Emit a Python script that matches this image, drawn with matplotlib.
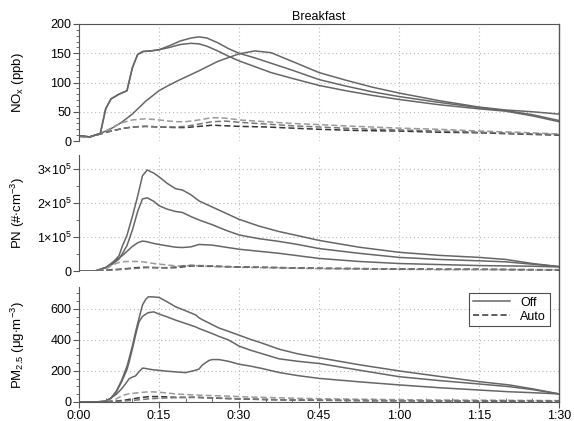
import matplotlib
matplotlib.use("Agg")
import matplotlib.pyplot as plt
from matplotlib.ticker import MultipleLocator, FixedLocator, FuncFormatter
from matplotlib.lines import Line2D

plt.rcParams['font.family'] = ['Liberation Sans', 'DejaVu Sans']
plt.rcParams['mathtext.fontset'] = 'custom'
plt.rcParams['mathtext.rm'] = 'Liberation Sans'
plt.rcParams['mathtext.it'] = 'Liberation Sans'

# ---------------- data (time in minutes) ----------------
title = "Breakfast"
legend_labels = ["Off", "Auto"]
x_tick_minutes = [0, 15, 30, 45, 60, 75, 90]
x_tick_labels = ["0:00", "0:15", "0:30", "0:45", "1:00", "1:15", "1:30"]

# NOx (ppb)
t_nox_ab = [0, 2, 4, 5, 6, 7.5, 9, 10, 11, 12, 13.5, 15, 17, 19, 21, 22.5, 24, 26, 28, 30,
            33, 36, 40, 45, 50, 55, 60, 67.5, 75, 80, 85, 90]
nox_off_a = [9, 7, 13, 55, 72, 80, 86, 125, 148, 153, 154, 156, 163, 171, 176, 178, 176, 168, 158, 150,
             142, 133, 121, 105, 94, 84, 76, 66, 57, 52, 45, 35]
nox_off_b = [9, 7, 13, 55, 72, 80, 86, 125, 148, 153, 154, 156, 160, 165, 167, 166, 162, 154, 145, 137,
             127, 117, 107, 95, 86, 78, 71, 62, 55, 51, 43, 33]
t_nox_c = [0, 2, 4, 6, 8, 10, 12.5, 15, 17, 18.75, 22.5, 26, 30, 33, 36, 40, 45, 50, 55, 60, 67.5, 75, 80, 85, 90]
nox_off_c = [9, 7, 13, 21, 32, 46, 68, 86, 96, 104, 120, 136, 149, 154, 151, 136, 117, 104, 92, 82, 69, 58, 53, 50, 46]
t_nox_auto = [0, 2, 4, 6, 8, 10, 12.5, 15, 18, 20, 22.5, 25, 27.5, 30, 35, 40, 45, 52, 60, 67.5, 75, 82, 90]
nox_auto_a = [8, 7, 12, 22, 31, 36, 38, 36, 33, 33, 36, 40, 39, 36, 33, 30, 28, 25, 22, 20, 17, 15, 12]
nox_auto_b = [8, 7, 12, 17, 21, 24, 25, 24, 23, 23, 25, 27, 26, 25, 24, 22, 20, 18, 17, 15, 14, 12, 10]
nox_auto_c = [8, 7, 12, 17, 21, 24, 25, 24, 24, 25, 29, 33, 34, 32, 29, 26, 24, 21, 19, 17, 15, 13, 11]

# PN (x10^5 #/cm3)
t_pn = [0, 3, 5, 6.25, 7.5, 8.1, 9, 10, 11, 11.9, 12.8, 14, 15, 16.5, 18.1, 19.4, 21, 22.5, 25, 27.5,
        30, 33.75, 37.5, 41, 45, 52.5, 60, 67.5, 75, 80, 85, 90]
pn_off_a = [0, 0.0, 0.1, 0.23, 0.45, 0.72, 1.05, 1.6, 2.2, 2.8, 2.97, 2.88, 2.77, 2.58, 2.42, 2.38, 2.24, 2.06,
            1.88, 1.70, 1.52, 1.32, 1.16, 1.04, 0.9, 0.70, 0.55, 0.46, 0.40, 0.34, 0.22, 0.13]
pn_off_b = [0, 0.0, 0.1, 0.2, 0.35, 0.5, 0.75, 1.2, 1.75, 2.12, 2.15, 2.05, 1.92, 1.82, 1.75, 1.72, 1.6, 1.5,
            1.36, 1.2, 1.06, 0.95, 0.87, 0.78, 0.66, 0.52, 0.40, 0.34, 0.30, 0.27, 0.2, 0.13]
pn_off_c = [0, 0.0, 0.1, 0.25, 0.38, 0.45, 0.58, 0.72, 0.83, 0.88, 0.86, 0.81, 0.78, 0.74, 0.70, 0.69, 0.71, 0.78,
            0.76, 0.70, 0.64, 0.58, 0.52, 0.45, 0.37, 0.28, 0.22, 0.19, 0.16, 0.15, 0.14, 0.12]
pn_auto_a = [0, 0, 0.05, 0.18, 0.25, 0.27, 0.28, 0.28, 0.28, 0.27, 0.25, 0.22, 0.2, 0.18, 0.15, 0.14, 0.16, 0.15,
             0.13, 0.12, 0.11, 0.1, 0.09, 0.08, 0.07, 0.06, 0.05, 0.04, 0.04, 0.04, 0.03, 0.03]
pn_auto_b = [0, 0, 0.02, 0.04, 0.05, 0.06, 0.07, 0.09, 0.1, 0.11, 0.11, 0.1, 0.1, 0.09, 0.1, 0.12, 0.15, 0.15,
             0.14, 0.13, 0.12, 0.11, 0.1, 0.09, 0.08, 0.07, 0.06, 0.05, 0.05, 0.04, 0.04, 0.03]
pn_auto_c = [0, 0, 0.02, 0.03, 0.04, 0.05, 0.06, 0.07, 0.08, 0.09, 0.1, 0.1, 0.09, 0.1, 0.12, 0.15, 0.17, 0.16,
             0.15, 0.13, 0.12, 0.11, 0.10, 0.09, 0.08, 0.07, 0.06, 0.05, 0.05, 0.05, 0.04, 0.04]

# PM2.5 (ug/m3)
t_pm = [0, 3, 5, 6, 7, 8, 9, 9.4, 10, 10.6, 11.25, 11.9, 12.5, 13, 14, 15, 16.5, 18.1, 20, 21.9, 22.5, 23.1,
        24.4, 25, 26.25, 28, 30, 32, 34.4, 37.5, 41, 45, 52.5, 60, 67.5, 75, 80.6, 85, 90]
pm_off_a = [0, 0, 5, 25, 70, 140, 230, 280, 360, 450, 538, 624, 660, 677, 676, 673, 645, 613, 587, 560, 542, 530,
            508, 497, 476, 455, 430, 405, 378, 340, 310, 285, 240, 200, 165, 131, 110, 85, 52]
pm_off_b = [0, 0, 5, 25, 65, 130, 210, 258, 340, 430, 516, 550, 565, 575, 580, 566, 548, 527, 505, 483, 473, 465,
            448, 440, 422, 400, 360, 335, 310, 278, 262, 248, 205, 163, 138, 116, 99, 80, 52]
pm_off_c = [0, 0, 5, 25, 50, 85, 130, 150, 160, 168, 195, 218, 216, 212, 207, 204, 198, 194, 189, 205, 212, 237,
            268, 273, 273, 262, 243, 232, 215, 190, 170, 152, 130, 110, 92, 77, 66, 60, 52]
pm_auto_a = [0, 0, 2, 8, 20, 40, 50, 52, 55, 58, 60, 62, 64, 65, 65, 63, 58, 52, 48, 45, 44, 43,
             42, 41, 40, 38, 35, 32, 30, 27, 24, 21, 18, 15, 13, 12, 11, 10, 9]
pm_auto_b = [0, 0, 1, 3, 6, 10, 14, 17, 20, 23, 27, 30, 32, 34, 35, 35, 33, 30, 30, 30, 29, 28,
             27, 26, 24, 22, 20, 18, 16, 14, 12, 11, 9, 8, 7, 6, 5, 5, 4]
pm_auto_c = [0, 0, 1, 2, 4, 6, 8, 9, 10, 12, 14, 16, 18, 20, 22, 24, 26, 28, 29, 30, 30, 29,
             28, 27, 25, 23, 21, 19, 17, 15, 13, 12, 10, 9, 8, 7, 6, 6, 5]

# ---------------- figure ----------------
W, H = 574, 421
fig = plt.figure(figsize=(W / 100, H / 100), dpi=100)

def frac_box(left, top, right, bottom):
    return [left / W, 1 - bottom / H, (right - left) / W, (bottom - top) / H]

ax1 = fig.add_axes(frac_box(79, 24, 559, 141))
ax2 = fig.add_axes(frac_box(79, 155, 559, 271))
ax3 = fig.add_axes(frac_box(79, 287, 559, 402))

solid_col = '#666666'
dash_cols = ['#9a9a9a', '#333333', '#777777']
lw = 1.1
dash = (0, (4, 2))

# NOx
for y in (nox_off_a, nox_off_b):
    ax1.plot(t_nox_ab, y, color=solid_col, lw=lw)
ax1.plot(t_nox_c, nox_off_c, color=solid_col, lw=lw)
for y, c in zip((nox_auto_a, nox_auto_b, nox_auto_c), dash_cols):
    ax1.plot(t_nox_auto, y, color=c, lw=lw, linestyle=dash)

# PN
for y in (pn_off_a, pn_off_b, pn_off_c):
    ax2.plot(t_pn, y, color=solid_col, lw=lw)
for y, c in zip((pn_auto_a, pn_auto_b, pn_auto_c), dash_cols):
    ax2.plot(t_pn, y, color=c, lw=lw, linestyle=dash)

# PM2.5
for y in (pm_off_a, pm_off_b, pm_off_c):
    ax3.plot(t_pm, y, color=solid_col, lw=lw)
for y, c in zip((pm_auto_a, pm_auto_b, pm_auto_c), dash_cols):
    ax3.plot(t_pm, y, color=c, lw=lw, linestyle=dash)

spine_col = '#555555'
fs = 9
for ax in (ax1, ax2, ax3):
    ax.set_xlim(0, 90)
    ax.xaxis.set_major_locator(FixedLocator(x_tick_minutes))
    ax.xaxis.set_minor_locator(MultipleLocator(5))
    ax.grid(True, which='major', color='#b8b8b8', linestyle=(0, (1, 2.5)), linewidth=0.8)
    ax.spines['right'].set_visible(False)
    ax.spines['top'].set_visible(False)
    ax.spines['left'].set_color(spine_col)
    ax.spines['bottom'].set_color(spine_col)
    ax.tick_params(axis='y', which='major', direction='out', length=4, width=0.8,
                   colors=spine_col, labelcolor='black', labelsize=fs, pad=1.5)
    ax.tick_params(axis='y', which='minor', direction='out', length=2, width=0.6, colors=spine_col)
    ax.set_facecolor('none')

for ax in (ax1, ax2):
    ax.spines['bottom'].set_visible(False)
    ax.tick_params(axis='x', which='both', bottom=False, labelbottom=False)

ax1.spines['top'].set_visible(True)
ax1.spines['top'].set_color(spine_col)

ax3.tick_params(axis='x', which='major', direction='out', length=4, width=0.8,
                colors=spine_col, labelcolor='black', labelsize=fs, pad=2)
ax3.tick_params(axis='x', which='minor', direction='in', length=3, width=0.6, colors=spine_col)
ax3.set_xticklabels(x_tick_labels)

ax1.set_ylim(0, 200)
ax1.yaxis.set_major_locator(MultipleLocator(50))
ax1.yaxis.set_minor_locator(MultipleLocator(10))

ax2.set_ylim(0, 3.41)
ax2.yaxis.set_major_locator(FixedLocator([0, 1, 2, 3]))
ax2.yaxis.set_minor_locator(MultipleLocator(0.5))
ax2.yaxis.set_major_formatter(FuncFormatter(lambda v, p: "0" if v == 0 else r"%d$\times$10$^5$" % v))

ax3.set_ylim(0, 740)
ax3.yaxis.set_major_locator(MultipleLocator(200))
ax3.yaxis.set_minor_locator(MultipleLocator(50))

ax1.set_title(title, fontsize=fs, pad=3)

# right border spanning all panels
fig.add_artist(Line2D([559 / W, 559 / W], [1 - 24 / H, 1 - 402 / H], color=spine_col, lw=1.0,
                      transform=fig.transFigure))

lfs = 9.5
fig.text(18 / W, 1 - 83 / H, r"NO$_x$ (ppb)", rotation=90, ha='center', va='center', fontsize=lfs)
fig.text(18 / W, 1 - 213 / H, r"PN (#$\cdot$cm$^{-3}$)", rotation=90, ha='center', va='center', fontsize=lfs)
fig.text(18 / W, 1 - 345 / H, r"PM$_{2.5}$ ($\mu$g$\cdot$m$^{-3}$)", rotation=90, ha='center', va='center', fontsize=lfs)

handles = [Line2D([], [], color=solid_col, lw=lw),
           Line2D([], [], color='#333333', lw=lw, linestyle=dash)]
leg = ax3.legend(handles, legend_labels, loc='upper left',
                 bbox_to_anchor=(469 / W, 1 - 293 / H), bbox_transform=fig.transFigure,
                 fontsize=fs, frameon=True, fancybox=False, handlelength=3.0,
                 handletextpad=0.8, borderpad=0.3, labelspacing=0.15, borderaxespad=0)
leg.get_frame().set_edgecolor('#222222')
leg.get_frame().set_linewidth(0.8)

fig.savefig("out.png", dpi=100)
